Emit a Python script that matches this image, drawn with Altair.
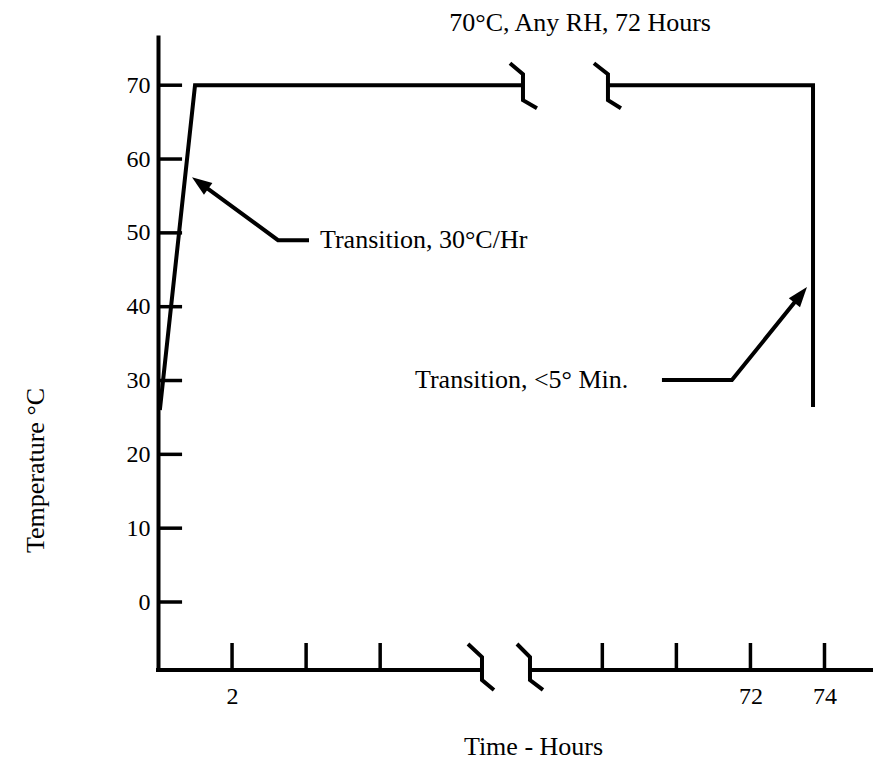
import altair as alt
import pandas as pd

# ---------------- data (x is display-hours: left of the break = hours, right of the break = hours - 56)
HIDDEN_HOURS = 56

# temperature profile, two pieces either side of the axis break
ramp_x = [0.05, 1.0, 9.857]
ramp_y = [26.0, 70.0, 70.0]
hold_x = [12.152, 17.69, 17.69]
hold_y = [70.0, 70.0, 26.4]

# break marks on the 70 °C line
brk_top_left_x = [9.506, 9.857, 9.857, 10.235]
brk_top_right_x = [11.774, 12.152, 12.152, 12.503]
brk_top_y = [72.98, 71.49, 67.97, 66.88]

# x axis line pieces and break marks
xaxis_left_x = [-0.054, 8.75]
xaxis_right_x = [10.046, 19.31]
xaxis_y = [-9.21, -9.21]
brk_bot_left_x = [8.372, 8.75, 8.75, 9.074]
brk_bot_right_x = [9.695, 10.046, 10.046, 10.397]
brk_bot_y = [-5.69, -7.45, -10.56, -11.91]

# annotation arrows (leader line + arrow shaft)
arrow1_x = [4.078, 3.241, 1.093]
arrow1_y = [49.01, 49.01, 56.9]
arrow2_x = [13.61, 15.50, 17.39]
arrow2_y = [30.06, 30.06, 41.81]
head_x = [0.918, 17.527]
head_y = [57.54, 42.65]
head_angle = [306, 39]

# ticks
y_ticks = [0, 10, 20, 30, 40, 50, 60, 70]
x_ticks = [2, 4, 6, 12, 14, 16, 18]
x_label_pos = [2, 16, 18]
x_label_text = ["2", "72", "74"]

# texts
notes = ["Transition, 30°C/Hr", "Transition, <5° Min.", "70°C, Any RH, 72 Hours"]
notes_x = [4.375, 6.94, 11.40]
notes_y = [49.0, 30.06, 78.39]
notes_align = ["left", "left", "center"]

X_DOMAIN = [0, 19.31]
Y_DOMAIN = [-9.21, 76.8]
FONT = "Liberation Serif"
FS = 26
FS_TICK = 24

# ---------------- tables
segments = [
    ("ramp", ramp_x, ramp_y),
    ("hold", hold_x, hold_y),
    ("btl", brk_top_left_x, brk_top_y),
    ("btr", brk_top_right_x, brk_top_y),
    ("xal", xaxis_left_x, xaxis_y),
    ("xar", xaxis_right_x, xaxis_y),
    ("bbl", brk_bot_left_x, brk_bot_y),
    ("bbr", brk_bot_right_x, brk_bot_y),
    ("a1", arrow1_x, arrow1_y),
    ("a2", arrow2_x, arrow2_y),
]
rows = []
for name, xs, ys in segments:
    for i, (a, b) in enumerate(zip(xs, ys)):
        rows.append({"seg": name, "ord": i, "x": a, "y": b})
lines_df = pd.DataFrame(rows)

ytick_df = pd.DataFrame({"x": [0.0] * len(y_ticks), "x2": [0.65] * len(y_ticks), "y": y_ticks})
xtick_df = pd.DataFrame({"x": x_ticks, "y": [-9.21] * len(x_ticks), "y2": [-5.55] * len(x_ticks)})
head_df = pd.DataFrame({"x": head_x, "y": head_y, "angle": head_angle})
notes_df = pd.DataFrame({"x": notes_x, "y": notes_y, "text": notes, "align": notes_align})

label_expr = " : ".join(
    [f"datum.value == {p} ? '{t}'" for p, t in zip(x_label_pos, x_label_text)]
) + " : ''"

xs = alt.Scale(domain=X_DOMAIN, nice=False, zero=False)
ys = alt.Scale(domain=Y_DOMAIN, nice=False, zero=False)

x_axis = alt.Axis(
    values=x_label_pos, labelExpr=label_expr, domain=False, ticks=False, tickSize=0,
    grid=False, labelPadding=14, labelFont=FONT, labelFontSize=FS_TICK, labelColor="black",
    title="Time - Hours", titleFont=FONT, titleFontSize=FS, titleFontWeight="normal",
    titleColor="black", titleX=375, titleY=76, titleBaseline="middle", titleAlign="center",
)
y_axis = alt.Axis(
    values=y_ticks, domain=True, domainColor="black", domainWidth=4, ticks=False, tickSize=0,
    grid=False, labelPadding=8, labelFont=FONT, labelFontSize=FS_TICK, labelColor="black",
    title="Temperature °C", titleFont=FONT, titleFontSize=FS, titleFontWeight="normal",
    titleColor="black", titleX=-123, titleY=435, titleAngle=270, titleBaseline="middle",
    titleAlign="center",
)

X = alt.X("x:Q", scale=xs, axis=x_axis)
Y = alt.Y("y:Q", scale=ys, axis=y_axis)

lines = alt.Chart(lines_df).mark_line(
    color="black", strokeWidth=4, clip=False, strokeJoin="miter"
).encode(x=X, y=Y, detail="seg:N", order="ord:Q")

yticks = alt.Chart(ytick_df).mark_rule(color="black", strokeWidth=3.5, clip=False).encode(
    x=X, x2="x2:Q", y=Y
)
xticks = alt.Chart(xtick_df).mark_rule(color="black", strokeWidth=3.5, clip=False).encode(
    x=X, y=Y, y2="y2:Q"
)
heads = alt.Chart(head_df).mark_point(
    shape="M0,0 L0.36,1 L-0.36,1 Z", size=1600, filled=True, color="black", opacity=1,
    clip=False,
).encode(x=X, y=Y, angle=alt.Angle("angle:Q", scale=None))

text_left = alt.Chart(notes_df[notes_df["align"] == "left"]).mark_text(
    font=FONT, fontSize=FS, color="black", align="left", baseline="middle", clip=False
).encode(x=X, y=Y, text="text:N")
text_center = alt.Chart(notes_df[notes_df["align"] == "center"]).mark_text(
    font=FONT, fontSize=FS, color="black", align="center", baseline="middle", clip=False
).encode(x=X, y=Y, text="text:N")

chart = alt.layer(lines, yticks, xticks, heads, text_left, text_center).properties(
    width=715,
    height=635,
    autosize=alt.AutoSizeParams(type="none"),
    padding={"left": 150, "top": 27, "right": 0, "bottom": 92},
    background="white",
).configure_view(stroke=None)

chart.save("out.html", embed_options={"renderer": "svg", "actions": False})
